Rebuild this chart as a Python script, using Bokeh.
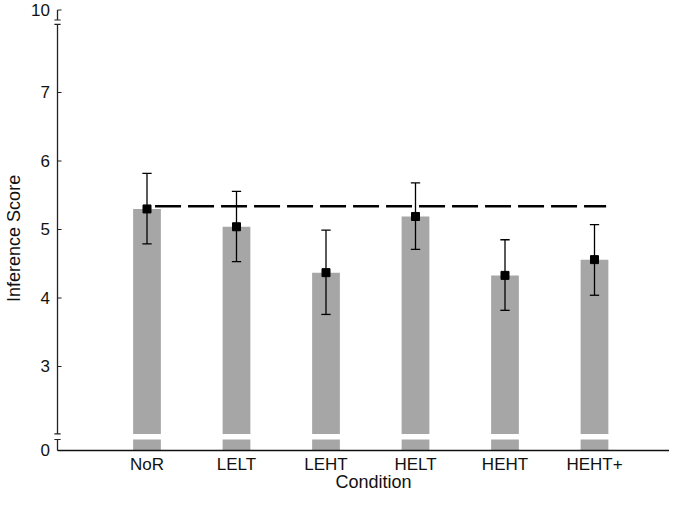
import numpy as np
from bokeh.plotting import figure
from bokeh.models import Range1d, ColumnDataSource
from bokeh.core.properties import value
from bokeh.embed import file_html
from bokeh.resources import INLINE

# ---------------- data ----------------
categories = ["NoR", "LELT", "LEHT", "HELT", "HEHT", "HEHT+"]
means = [5.30, 5.04, 4.37, 5.19, 4.33, 4.56]
err_upper = [5.82, 5.555, 4.99, 5.68, 4.85, 5.07]
err_lower = [4.79, 4.53, 3.76, 4.71, 3.82, 4.04]
ref_value = 5.34
y_tick_values = [0, 3, 4, 5, 6, 7, 10]
y_tick_labels = ["0", "3", "4", "5", "6", "7", "10"]
y_label = "Inference Score"
x_label = "Condition"

# ---------------- broken-axis geometry (display units) ----------------
VAL_KNOTS = [0, 2, 8, 10]
DISP_KNOTS = [1.774, 2.0, 8.0, 8.205]


def to_disp(v):
    return float(np.interp(v, VAL_KNOTS, DISP_KNOTS))


ZERO_POS = to_disp(0)
TOP_POS = to_disp(10)
BOT_LO, BOT_HI = 1.934, 2.015     # lower break gap
TOP_LO, TOP_HI = 7.993, 8.058     # upper break gap
BREAK_HALF = 0.035
TICK_LEN = 0.045
CAP_HALF = 0.052
BAR_W = 0.31
REF_X0, REF_X1 = 1.09, 6.13
YLAB_X = -0.084          # right edge of y tick labels
XLAB_Y = 1.57            # x tick labels
XTITLE_Y = 1.32          # x axis title
YTITLE_X, YTITLE_Y = -0.49, 4.87

xs = list(range(1, len(categories) + 1))

p = figure(width=669, height=491, output_backend="svg", toolbar_location=None,
           x_range=Range1d(-0.6369, 6.838),
           y_range=Range1d(1.175, 8.343),
           x_axis_location=None, y_axis_location=None,
           min_border=0)
p.outline_line_color = None
p.grid.visible = False
p.background_fill_color = "white"
p.border_fill_color = "white"

FONT = "Liberation Sans"
TXT = "#111111"

# bars (two pieces around the lower break)
src = ColumnDataSource(dict(x=xs,
                            top=[to_disp(m) for m in means],
                            up=[to_disp(u) for u in err_upper],
                            lo=[to_disp(l) for l in err_lower]))
p.vbar(x="x", width=BAR_W, bottom=BOT_HI, top="top", source=src,
       fill_color="#a6a6a6", line_color=None)
p.vbar(x="x", width=BAR_W, bottom=ZERO_POS, top=BOT_LO, source=src,
       fill_color="#a6a6a6", line_color=None)

# reference dashed line
p.line([REF_X0, REF_X1], [to_disp(ref_value)] * 2, line_color="black",
       line_width=2.6, line_dash="26 7")

# error bars
p.segment(x0="x", x1="x", y0="lo", y1="up", source=src, line_color="black", line_width=1.3)
cap_x0 = [x - CAP_HALF for x in xs]
cap_x1 = [x + CAP_HALF for x in xs]
p.segment(x0=cap_x0 + cap_x0, x1=cap_x1 + cap_x1,
          y0=src.data["up"] + src.data["lo"], y1=src.data["up"] + src.data["lo"],
          line_color="black", line_width=1.3)
p.scatter(x="x", y="top", source=src, marker="square", size=8,
          fill_color="black", line_color="black")

# custom broken y axis line
p.segment(x0=[0, 0, 0], x1=[0, 0, 0],
          y0=[ZERO_POS, BOT_HI, TOP_HI], y1=[BOT_LO, TOP_LO, TOP_POS],
          line_color="#222222", line_width=1.3)
brk = [BOT_LO, BOT_HI, TOP_LO, TOP_HI]
p.segment(x0=[-BREAK_HALF] * 4, x1=[BREAK_HALF] * 4, y0=brk, y1=brk,
          line_color="#222222", line_width=1.2)
tick_pos = [to_disp(v) for v in y_tick_values if v != 0]
p.segment(x0=[0] * len(tick_pos), x1=[TICK_LEN] * len(tick_pos), y0=tick_pos, y1=tick_pos,
          line_color="#222222", line_width=1.1)
# x axis line
p.segment(x0=[0], x1=[p.x_range.end], y0=[ZERO_POS], y1=[ZERO_POS],
          line_color="#111111", line_width=1.6)

# y tick labels
p.text(x=[YLAB_X] * len(y_tick_values), y=[to_disp(v) for v in y_tick_values],
       text=y_tick_labels, text_font=value(FONT), text_font_size=value("17px"),
       text_color=TXT, text_align="right", text_baseline="middle")
# x tick labels
p.text(x=xs, y=[XLAB_Y] * len(xs), text=categories,
       text_font=value(FONT), text_font_size=value("17px"),
       text_color=TXT, text_align="center", text_baseline="middle")
# axis titles
p.text(x=[(xs[0] + xs[-1]) / 2 + 0.03], y=[XTITLE_Y], text=[x_label],
       text_font=value(FONT), text_font_size=value("18px"),
       text_color=TXT, text_align="center", text_baseline="middle")
p.text(x=[YTITLE_X], y=[YTITLE_Y], text=[y_label], angle=np.pi / 2,
       text_font=value(FONT), text_font_size=value("18px"),
       text_color=TXT, text_align="center", text_baseline="middle")

open("out.html", "w").write(file_html(p, INLINE))
